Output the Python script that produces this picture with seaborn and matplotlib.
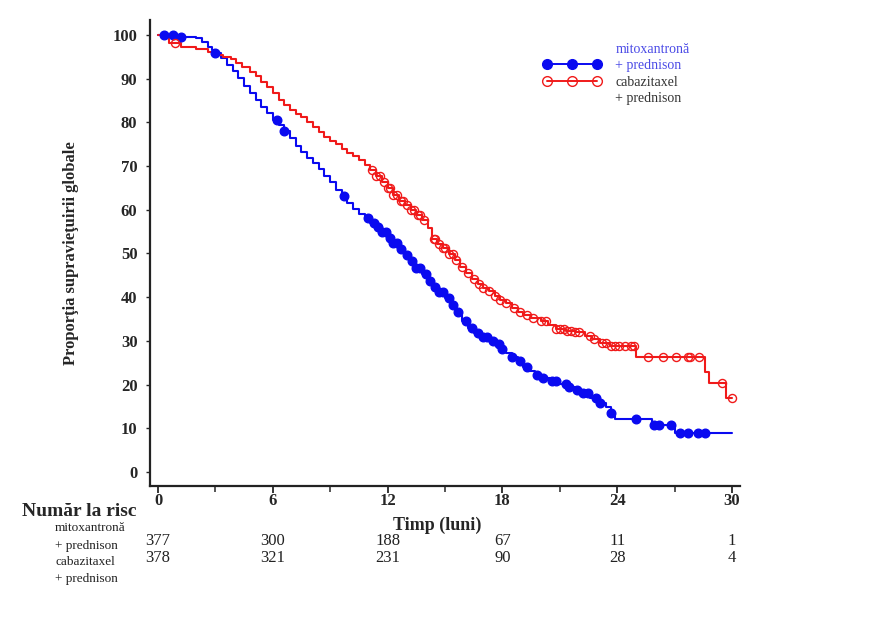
"""
Curba Kaplan-Meier a supravietuirii globale: cabazitaxel vs mitoxantrona
(fiecare + prednison), cu tabelul pacientilor la risc sub axa timpului.
"""
import numpy as np
import pandas as pd
import seaborn as sns
import matplotlib.pyplot as plt
from matplotlib.lines import Line2D

sns.set_style("ticks")
plt.rcParams["font.family"] = ["Liberation Serif", "DejaVu Serif"]

# curve steps (months, % surviving)
mito_t = [0, 0.9, 2.0, 2.3, 2.6, 2.8, 3.0, 3.3, 3.6, 3.9, 4.2, 4.5, 4.8, 5.1, 5.4,
          5.7, 6.0, 6.3, 6.6, 6.9, 7.2, 7.5, 7.8, 8.1, 8.4, 8.7, 9.0, 9.3, 9.6,
          9.9, 10.2, 10.5, 10.8, 11.1, 11.4, 11.7, 12.0, 12.3, 12.6, 12.9, 13.2,
          13.5, 13.8, 14.1, 14.4, 14.7, 15.0, 15.3, 15.6, 15.9, 16.2, 16.5, 16.9,
          17.3, 17.6, 17.9, 18.2, 18.5, 18.8, 19.1, 19.4, 19.7, 20.0, 20.5, 21.0,
          21.4, 21.8, 22.2, 22.6, 23.0, 23.4, 23.7, 23.9, 25.8, 27.0, 30.0]
mito_s = [100, 99.5, 99.2, 98.3, 97.3, 96.5, 95.9, 94.6, 93.2, 91.8, 90.2, 88.4,
          86.6, 85.1, 83.6, 82.2, 80.6, 79.4, 78.0, 76.3, 74.6, 73.2, 71.9, 70.6,
          69.3, 67.7, 66.3, 64.6, 63.1, 61.6, 60.2, 59.0, 58.1, 57.0, 56.0, 54.8,
          53.5, 52.3, 51.0, 49.6, 48.2, 46.6, 45.2, 43.8, 42.4, 41.2, 39.8, 38.2,
          36.6, 34.6, 32.9, 31.8, 30.9, 30.0, 29.2, 28.2, 27.2, 26.4, 25.4, 24.1,
          23.0, 22.2, 21.5, 20.8, 20.2, 19.5, 18.8, 18.0, 16.9, 15.8, 14.8, 13.6,
          12.1, 10.8, 8.9, 8.9]

caba_t = [0, 0.3, 0.6, 1.2, 2.0, 2.6, 3.0, 3.4, 3.8, 4.1, 4.4, 4.8, 5.1, 5.4, 5.7,
          6.0, 6.3, 6.6, 6.9, 7.2, 7.5, 7.8, 8.1, 8.4, 8.7, 9.0, 9.3, 9.6, 9.9,
          10.2, 10.5, 10.8, 11.1, 11.4, 11.7, 12.0, 12.3, 12.6, 12.9, 13.2, 13.5,
          13.8, 14.1, 14.3, 14.6, 14.9, 15.2, 15.5, 15.8, 16.1, 16.4, 16.7, 17.0,
          17.3, 17.6, 17.9, 18.2, 18.5, 18.8, 19.1, 19.5, 20.0, 20.4, 20.8, 21.3,
          21.8, 22.3, 22.7, 23.1, 23.6, 25.0, 28.6, 28.8, 29.7, 30.0]
caba_s = [100, 99.2, 98.2, 97.3, 96.8, 96.0, 95.5, 95.0, 94.4, 93.5, 92.7, 91.6,
          90.6, 89.2, 88.0, 86.6, 85.2, 84.0, 82.9, 82.0, 81.1, 80.1, 79.0, 77.8,
          76.7, 75.7, 75.0, 73.9, 73.0, 72.2, 71.3, 70.2, 69.0, 67.6, 66.3, 64.9,
          63.3, 62.1, 61.0, 59.9, 58.9, 57.6, 55.8, 53.4, 52.2, 51.3, 49.8, 48.5,
          47.0, 45.6, 44.1, 43.0, 42.1, 41.3, 40.3, 39.4, 38.6, 37.6, 36.7, 36.0,
          35.2, 34.6, 33.6, 32.6, 32.3, 32.0, 31.2, 30.4, 29.5, 28.8, 26.2, 22.9,
          20.3, 17.0, 17.0]

# censoring times (months)
mito_cens = [0.3, 0.8, 1.2, 3.0, 6.2, 6.6, 9.7, 11.0, 11.3, 11.5, 11.7, 11.9, 12.1,
             12.3, 12.5, 12.7, 13.0, 13.3, 13.5, 13.7, 14.0, 14.2, 14.5, 14.7, 14.9,
             15.2, 15.4, 15.7, 16.1, 16.4, 16.7, 17.0, 17.2, 17.5, 17.8, 18.0, 18.5,
             18.9, 19.3, 19.8, 20.1, 20.6, 20.8, 21.3, 21.5, 21.9, 22.2, 22.5, 22.9,
             23.1, 23.7, 25.0, 25.9, 26.2, 26.8, 27.3, 27.7, 28.2, 28.6]
caba_cens = [0.9, 11.2, 11.4, 11.6, 11.8, 12.0, 12.1, 12.3, 12.5, 12.7, 12.8, 13.0,
             13.2, 13.4, 13.6, 13.7, 13.9, 14.4, 14.5, 14.7, 14.9, 15.0, 15.2, 15.4,
             15.6, 15.9, 16.2, 16.5, 16.8, 17.0, 17.3, 17.6, 17.9, 18.2, 18.6, 18.9,
             19.3, 19.6, 20.0, 20.3, 20.8, 21.0, 21.2, 21.4, 21.6, 21.8, 22.0, 22.6,
             22.8, 23.2, 23.4, 23.7, 23.9, 24.1, 24.4, 24.7, 24.9, 25.6, 26.4, 27.1,
             27.7, 27.8, 28.3, 29.5, 30.0]

# numbers at risk
risk_times = [0, 6, 12, 18, 24, 30]
mito_risk = [377, 300, 188, 67, 11, 1]
caba_risk = [378, 321, 231, 90, 28, 4]

BLUE = "#0a0af0"
RED = "#f01a1a"


def value_at(times, surv, t):
    """Survival of a step curve at time t (right-continuous)."""
    idx = np.searchsorted(times, t, side="right") - 1
    return np.asarray(surv)[idx]


curves = pd.concat([
    pd.DataFrame({"t": mito_t, "s": mito_s, "grup": "mito"}),
    pd.DataFrame({"t": caba_t, "s": caba_s, "grup": "caba"}),
])
mito_c = pd.DataFrame({"t": mito_cens, "s": value_at(mito_t, mito_s, mito_cens)})
caba_c = pd.DataFrame({"t": caba_cens, "s": value_at(caba_t, caba_s, caba_cens)})

fig = plt.figure(figsize=(8.89, 6.19), dpi=100)
ax = fig.add_axes([0.1687, 0.2149, 0.6637, 0.7528])

sns.lineplot(data=curves, x="t", y="s", hue="grup", palette={"mito": BLUE, "caba": RED},
             estimator=None, sort=False, drawstyle="steps-post", linewidth=1.5,
             legend=False, ax=ax)
ax.plot(mito_c["t"], mito_c["s"], "o", color=BLUE, markersize=6.2, linestyle="none")
ax.plot(caba_c["t"], caba_c["s"], "o", markerfacecolor="none", markeredgecolor=RED,
        markeredgewidth=1.0, markersize=5.8, linestyle="none")

ax.set_xlim(-0.42, 30.42)
ax.set_ylim(-3.2, 103.4)
ax.set_xticks(risk_times)
ax.set_xticks([3, 9, 15, 21, 27], minor=True)
ax.set_yticks(range(0, 101, 10))
sns.despine(ax=ax)
for side in ("left", "bottom"):
    ax.spines[side].set_linewidth(1.6)
    ax.spines[side].set_color("#222222")
ax.tick_params(axis="y", length=3, width=1, labelsize=12, pad=6)
ax.tick_params(axis="x", which="major", length=5, width=1.3, labelsize=12, pad=0)
ax.tick_params(axis="x", which="minor", length=4, width=1.1)
for lab in ax.get_xticklabels() + ax.get_yticklabels():
    lab.set_fontweight("bold")

ax.set_ylabel("Proporţia supravieţuirii globale", fontsize=12, fontweight="bold")
ax.yaxis.set_label_coords(-0.12, 0.5)
ax.set_xlabel("Timp (luni)", fontsize=13, fontweight="bold")
ax.xaxis.set_label_coords(0.486, -0.066)

# legend: one label per text line, markers on the middle two lines
blank = Line2D([], [], linestyle="none")
handles = [
    blank,
    Line2D([], [], color=BLUE, marker="o", markersize=7, linewidth=1.4),
    Line2D([], [], color=RED, marker="o", markerfacecolor="none", markersize=7,
           markeredgewidth=1.0, linewidth=1.4),
    blank,
]
leg = ax.legend(handles, ["mitoxantronă", "+ prednison", "cabazitaxel", "+ prednison"],
                loc="upper left", bbox_to_anchor=(0.645, 0.978), frameon=False,
                numpoints=3, handlelength=4.2, handletextpad=1.0, fontsize=10,
                labelspacing=0.25)
for txt, col in zip(leg.get_texts(), ["#4a4ae6", "#4a4ae6", "#333333", "#333333"]):
    txt.set_color(col)

# number at risk table
tr = ax.get_xaxis_transform()
for t, m, c in zip(risk_times, mito_risk, caba_risk):
    ax.text(t, -0.118, str(m), transform=tr, ha="center", va="center", fontsize=12,
            color="#222222")
    ax.text(t, -0.155, str(c), transform=tr, ha="center", va="center", fontsize=12,
            color="#222222")

fig.text(0.025, 0.173, "Număr la risc", fontsize=14, fontweight="bold", va="center")
for y, txt in zip([528, 546, 562, 579],
                  ["mitoxantronă", "+ prednison", "cabazitaxel", "+ prednison"]):
    fig.text(0.062, 1 - y / 619, txt, fontsize=9.5, va="center", color="#222222")

plt.savefig("out.png", dpi=100)
